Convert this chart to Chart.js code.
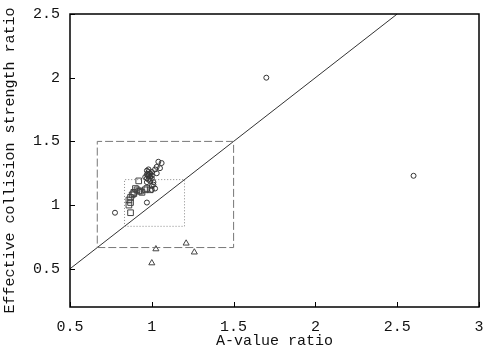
<!DOCTYPE html>
<html lang="en">
<head>
    <meta charset="UTF-8">
    <title>Effective collision strength ratio vs A-value ratio</title>
    <script src="https://cdn.jsdelivr.net/npm/chart.js"></script>
    <style>
        body, html {
            margin: 0;
            padding: 0;
            background: #ffffff;
        }
        .chart-box {
            width: 487px;
            height: 353px;
        }
    </style>
</head>
<body>
    <div class="chart-box">
        <canvas id="ratioChart" width="487" height="353"></canvas>
    </div>

    <script>
        // values
        const circleX = [1.70, 2.60, 0.775, 0.97, 1.04, 1.06, 1.03, 1.05, 1.02, 1.03, 1.00,
                         0.97, 0.98, 0.99, 0.97, 0.98, 0.99, 0.97, 0.98, 1.00, 0.96, 0.99,
                         0.97, 1.00, 0.98, 1.01, 1.00, 1.01, 1.02, 1.00];
        const circleY = [2.00, 1.23, 0.94, 1.02, 1.34, 1.33, 1.30, 1.29, 1.28, 1.25, 1.26,
                         1.27, 1.26, 1.25, 1.24, 1.23, 1.22, 1.21, 1.20, 1.21, 1.22, 1.19,
                         1.18, 1.23, 1.28, 1.18, 1.15, 1.16, 1.13, 1.12];
        const squareX = [0.92, 0.98, 0.90, 0.91, 0.92, 0.89, 0.94, 0.97, 0.99, 0.88, 0.87,
                         0.86, 0.87, 0.86, 0.89, 0.87, 0.93, 0.96];
        const squareY = [1.19, 1.24, 1.13, 1.12, 1.11, 1.10, 1.10, 1.13, 1.12, 1.08, 1.06,
                         1.04, 1.02, 1.00, 1.09, 0.94, 1.11, 1.12];
        const triangleX = [1.025, 1.21, 1.26, 1.00];
        const triangleY = [0.655, 0.70, 0.63, 0.545];

        // y = x reference line and the factor 1.5 / 1.2 boxes
        const diagonalX = [0.5, 2.5];
        const diagonalY = [0.5, 2.5];
        const dashedBoxX = [1 / 1.5, 1.5, 1.5, 1 / 1.5, 1 / 1.5];
        const dashedBoxY = [1 / 1.5, 1 / 1.5, 1.5, 1.5, 1 / 1.5];
        const dottedBoxX = [1 / 1.2, 1.2, 1.2, 1 / 1.2, 1 / 1.2];
        const dottedBoxY = [1 / 1.2, 1 / 1.2, 1.2, 1.2, 1 / 1.2];

        const xTicks = [0.5, 1, 1.5, 2, 2.5, 3];
        const yTicks = [0.5, 1, 1.5, 2, 2.5];

        function toPoints(xs, ys) {
            return xs.map((x, i) => ({ x: x, y: ys[i] }));
        }

        const monoFont = { family: "'Liberation Mono', 'DejaVu Sans Mono', monospace", size: 15 };

        // inward ticks on left and bottom + full frame
        const frameTicks = {
            id: 'frameTicks',
            afterDraw(chart) {
                const ctx = chart.ctx;
                const a = chart.chartArea;
                const xs = chart.scales.x;
                const ys = chart.scales.y;
                ctx.save();
                ctx.strokeStyle = '#000';
                ctx.lineWidth = 1;
                ctx.beginPath();
                xTicks.forEach(v => {
                    const px = Math.round(xs.getPixelForValue(v)) + 0.5;
                    ctx.moveTo(px, a.bottom);
                    ctx.lineTo(px, a.bottom - 5);
                });
                yTicks.forEach(v => {
                    const py = Math.round(ys.getPixelForValue(v)) + 0.5;
                    ctx.moveTo(a.left, py);
                    ctx.lineTo(a.left + 5, py);
                });
                ctx.stroke();
                ctx.lineWidth = 1.5;
                ctx.strokeRect(a.left, a.top, a.right - a.left, a.bottom - a.top);
                ctx.restore();
            }
        };

        const ctx = document.getElementById('ratioChart').getContext('2d');
        const ratioChart = new Chart(ctx, {
            type: 'scatter',
            data: {
                datasets: [
                    {
                        data: toPoints(dashedBoxX, dashedBoxY),
                        showLine: true,
                        borderColor: '#777',
                        borderWidth: 1,
                        borderDash: [8, 3],
                        pointRadius: 0
                    },
                    {
                        data: toPoints(dottedBoxX, dottedBoxY),
                        showLine: true,
                        borderColor: '#888',
                        borderWidth: 1,
                        borderDash: [1, 2],
                        pointRadius: 0
                    },
                    {
                        data: toPoints(diagonalX, diagonalY),
                        showLine: true,
                        borderColor: '#333',
                        borderWidth: 1,
                        pointRadius: 0
                    },
                    {
                        data: toPoints(circleX, circleY),
                        pointStyle: 'circle',
                        pointRadius: 2.5,
                        borderColor: '#333',
                        backgroundColor: 'rgba(255,255,255,0)',
                        borderWidth: 1
                    },
                    {
                        data: toPoints(squareX, squareY),
                        pointStyle: 'rect',
                        pointRadius: 4,
                        borderColor: '#444',
                        backgroundColor: 'rgba(255,255,255,0)',
                        borderWidth: 1
                    },
                    {
                        data: toPoints(triangleX, triangleY),
                        pointStyle: 'triangle',
                        pointRadius: 3.5,
                        borderColor: '#444',
                        backgroundColor: 'rgba(255,255,255,0)',
                        borderWidth: 1
                    }
                ]
            },
            options: {
                responsive: false,
                animation: false,
                layout: { padding: { top: 14, right: 8, left: 0, bottom: 0 } },
                plugins: {
                    legend: { display: false },
                    tooltip: { enabled: false }
                },
                scales: {
                    x: {
                        type: 'linear',
                        min: 0.5,
                        max: 3,
                        afterBuildTicks: s => { s.ticks = xTicks.map(v => ({ value: v })); },
                        afterFit: s => { s.height = 46; },
                        grid: { display: false, drawTicks: true, tickLength: 11 },
                        border: { display: false },
                        ticks: {
                            font: monoFont,
                            color: '#111',
                            padding: 0,
                            maxRotation: 0,
                            callback: v => String(v)
                        },
                        title: {
                            display: true,
                            text: 'A-value ratio',
                            font: monoFont,
                            color: '#111',
                            padding: { top: 0, bottom: 3 }
                        }
                    },
                    y: {
                        type: 'linear',
                        min: 0.2,
                        max: 2.5,
                        afterBuildTicks: s => { s.ticks = yTicks.map(v => ({ value: v })); },
                        afterFit: s => { s.width = 70; },
                        grid: { display: false, drawTicks: true, tickLength: 10 },
                        border: { display: false },
                        ticks: {
                            font: monoFont,
                            color: '#111',
                            padding: 0,
                            callback: v => String(v)
                        },
                        title: {
                            display: true,
                            text: 'Effective collision strength ratio',
                            font: monoFont,
                            color: '#111',
                            padding: { top: 1, bottom: 0 }
                        }
                    }
                }
            },
            plugins: [frameTicks]
        });
    </script>
</body>
</html>
